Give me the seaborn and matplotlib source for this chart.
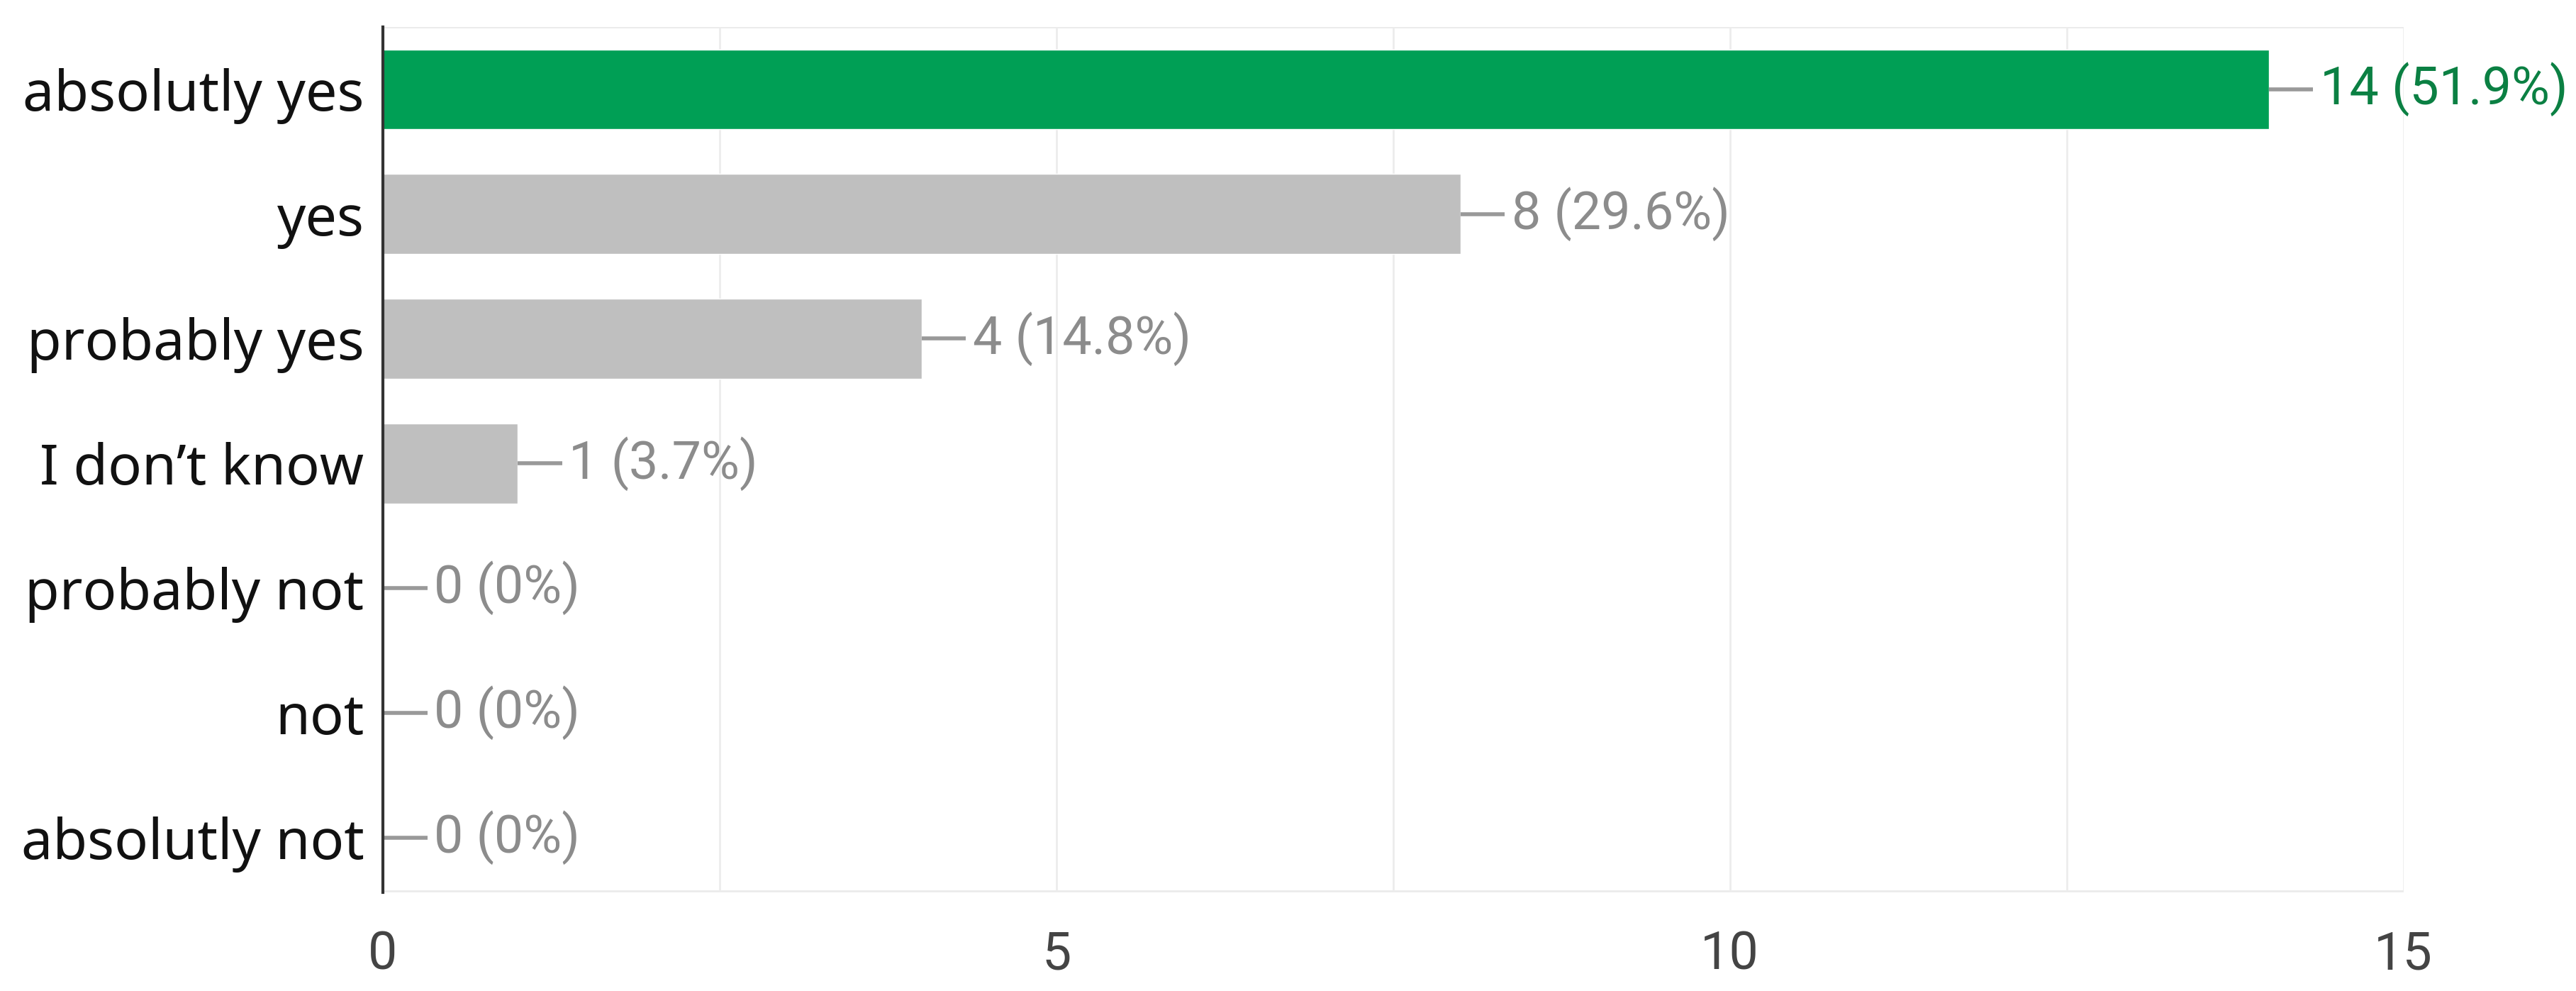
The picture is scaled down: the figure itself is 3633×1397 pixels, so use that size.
import matplotlib
matplotlib.use("Agg")
import matplotlib.pyplot as plt
import seaborn as sns

# data
categories = ["absolutly yes", "yes", "probably yes", "I don\u2019t know",
              "probably not", "not", "absolutly not"]
counts = [14, 8, 4, 1, 0, 0, 0]
total = 27
bar_colors = ["#009f55", "#bfbfbf", "#bfbfbf", "#bfbfbf", "#bfbfbf", "#bfbfbf", "#bfbfbf"]
label_colors = ["#0b8043", "#8c8c8c", "#8c8c8c", "#8c8c8c", "#8c8c8c", "#8c8c8c", "#8c8c8c"]
x_ticks = [0, 5, 10, 15]

sns.set_style("white")

fig = plt.figure(figsize=(36.33, 13.97), dpi=100)
ax = fig.add_axes([0.1486, 0.0995, 0.933 - 0.1486, 0.9728 - 0.0995])

sns.barplot(x=counts, y=categories, hue=categories, palette=bar_colors,
            orient="h", width=0.64, legend=False, ax=ax, saturation=1)

ax.set_xlim(0, 15)
ax.set_ylim(6.44, -0.5)

# light vertical grid every 2.5
for gx in [2.5, 5, 7.5, 10, 12.5, 15]:
    ax.axvline(gx, color="#ececec", lw=2, zorder=0)
ax.axhline(-0.5, color="#ececec", lw=3, zorder=0)

for s in ["top", "right", "bottom"]:
    ax.spines[s].set_visible(False)
ax.axhline(6.44, color="#ececec", lw=5, zorder=0)
ax.spines["left"].set_color("#333333")
ax.spines["left"].set_linewidth(3)
ax.spines["left"].set_zorder(5)

# value labels with short leader lines
for i, v in enumerate(counts):
    pct = "0%" if v == 0 else f"{v / total * 100:.1f}%"
    ax.hlines(i, v, v + 0.33, color="#999999", lw=4, zorder=4)
    ax.text(v + 0.38, i, f"{v} ({pct})", va="center", ha="left",
            fontsize=53, color=label_colors[i], family="Roboto")

ax.set_xticks(x_ticks)
ax.set_xticklabels([str(t) for t in x_ticks], fontsize=53, color="#444444", family="Roboto")
ax.tick_params(axis="x", length=0, pad=38)
ax.tick_params(axis="y", length=0, pad=19)
for lbl in ax.get_yticklabels():
    lbl.set_fontsize(57)
    lbl.set_family("Noto Sans")
    lbl.set_color("#111111")
ax.set_xlabel("")
ax.set_ylabel("")

fig.savefig("out.png", dpi=100)
